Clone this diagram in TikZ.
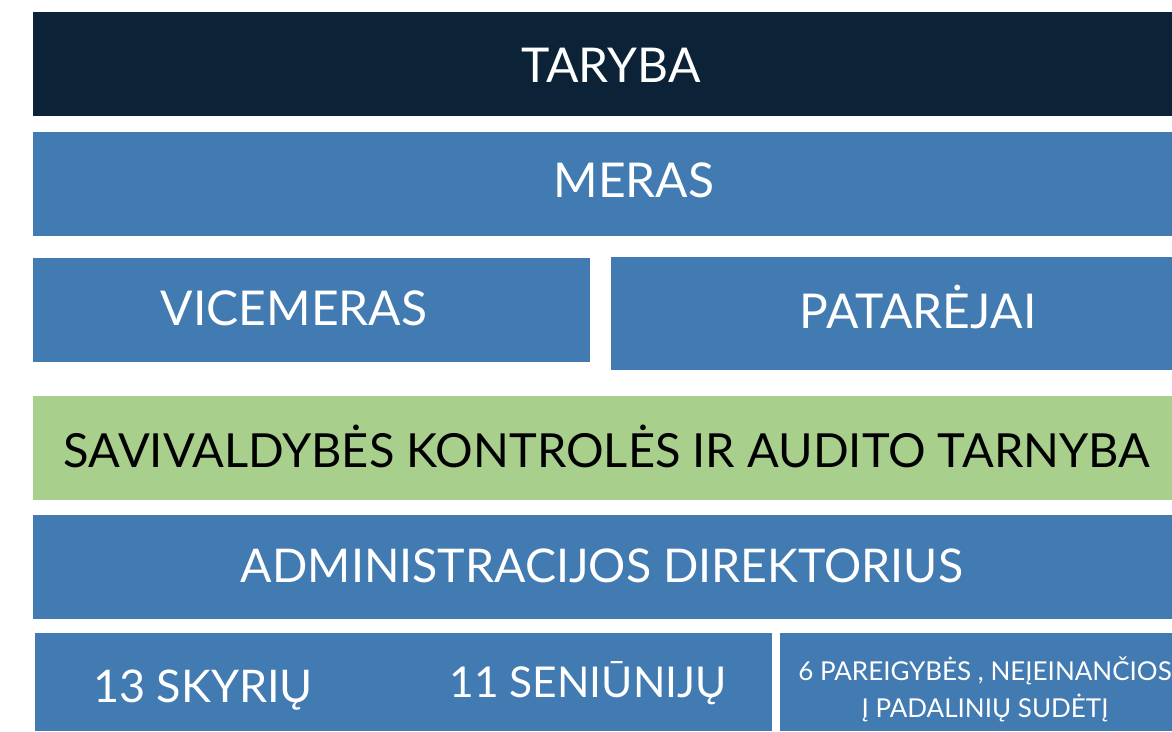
\documentclass[tikz,border=0pt]{standalone}
\usepackage{fontspec}
\setmainfont{Lato}
\definecolor{tarybanavy}{HTML}{0C2237}
\definecolor{merasblue}{HTML}{427AB2}
\definecolor{auditgreen}{HTML}{A9CF8D}

\begin{document}
\begin{tikzpicture}[x=1pt,y=-1pt,
                    bar/.style={anchor=north west,inner sep=0pt,outer sep=0pt,fill=merasblue},
                    big/.style={anchor=base,text=white,font=\fontsize{48}{52}\selectfont},
                    small/.style={anchor=base,text=white,font=\fontsize{26}{29}\selectfont}]

  \useasboundingbox (0,0) rectangle (1172,731);

  % strips
  \node[bar,fill=tarybanavy,minimum width=1139pt,minimum height=104pt] (taryba) at (33,12) {};
  \node[bar,minimum width=1139pt,minimum height=104pt] (meras) at (33,132) {};
  \node[bar,minimum width=557pt,minimum height=104pt] (vicemeras) at (33,258) {};
  \node[bar,minimum width=561pt,minimum height=113pt] (patarejai) at (611,257) {};
  \node[bar,fill=auditgreen,minimum width=1139pt,minimum height=104pt] (audit) at (33,396) {};
  \node[bar,minimum width=1139pt,minimum height=104pt] (admin) at (33,515) {};
  \node[bar,minimum width=737pt,minimum height=98pt] (units) at (35,633) {};
  \node[bar,minimum width=392pt,minimum height=98pt] (other) at (780,633) {};

  % labels
  \node[big] (tarybatxt) at (611,82) {TARYBA};
  \node[big] (merastxt) at (634,197) {MERAS};
  \node[big] (vicetxt) at (294,325) {VICEMERAS};
  \node[big] (patatxt) at (918,328) {PATARĖJAI};
  \node[big,text=black,font=\fontsize{47}{50}\selectfont] (audittxt) at (607,467) {SAVIVALDYBĖS KONTROLĖS IR AUDITO TARNYBA};
  \node[big,font=\fontsize{46.5}{50}\selectfont] (admintxt) at (602,582) {ADMINISTRACIJOS DIREKTORIUS};
  \node[big,font=\fontsize{45}{48}\selectfont] (skyrtxt) at (203,702) {13 SKYRIŲ};
  \node[big,font=\fontsize{42.5}{46}\selectfont] (senitxt) at (588,697) {11 SENIŪNIJŲ};
  \node[small] (othertxt1) at (985,680) {6 PAREIGYBĖS , NEĮEINANČIOS};
  \node[small] (othertxt2) at (985,717) {Į PADALINIŲ SUDĖTĮ};
\end{tikzpicture}
\end{document}
